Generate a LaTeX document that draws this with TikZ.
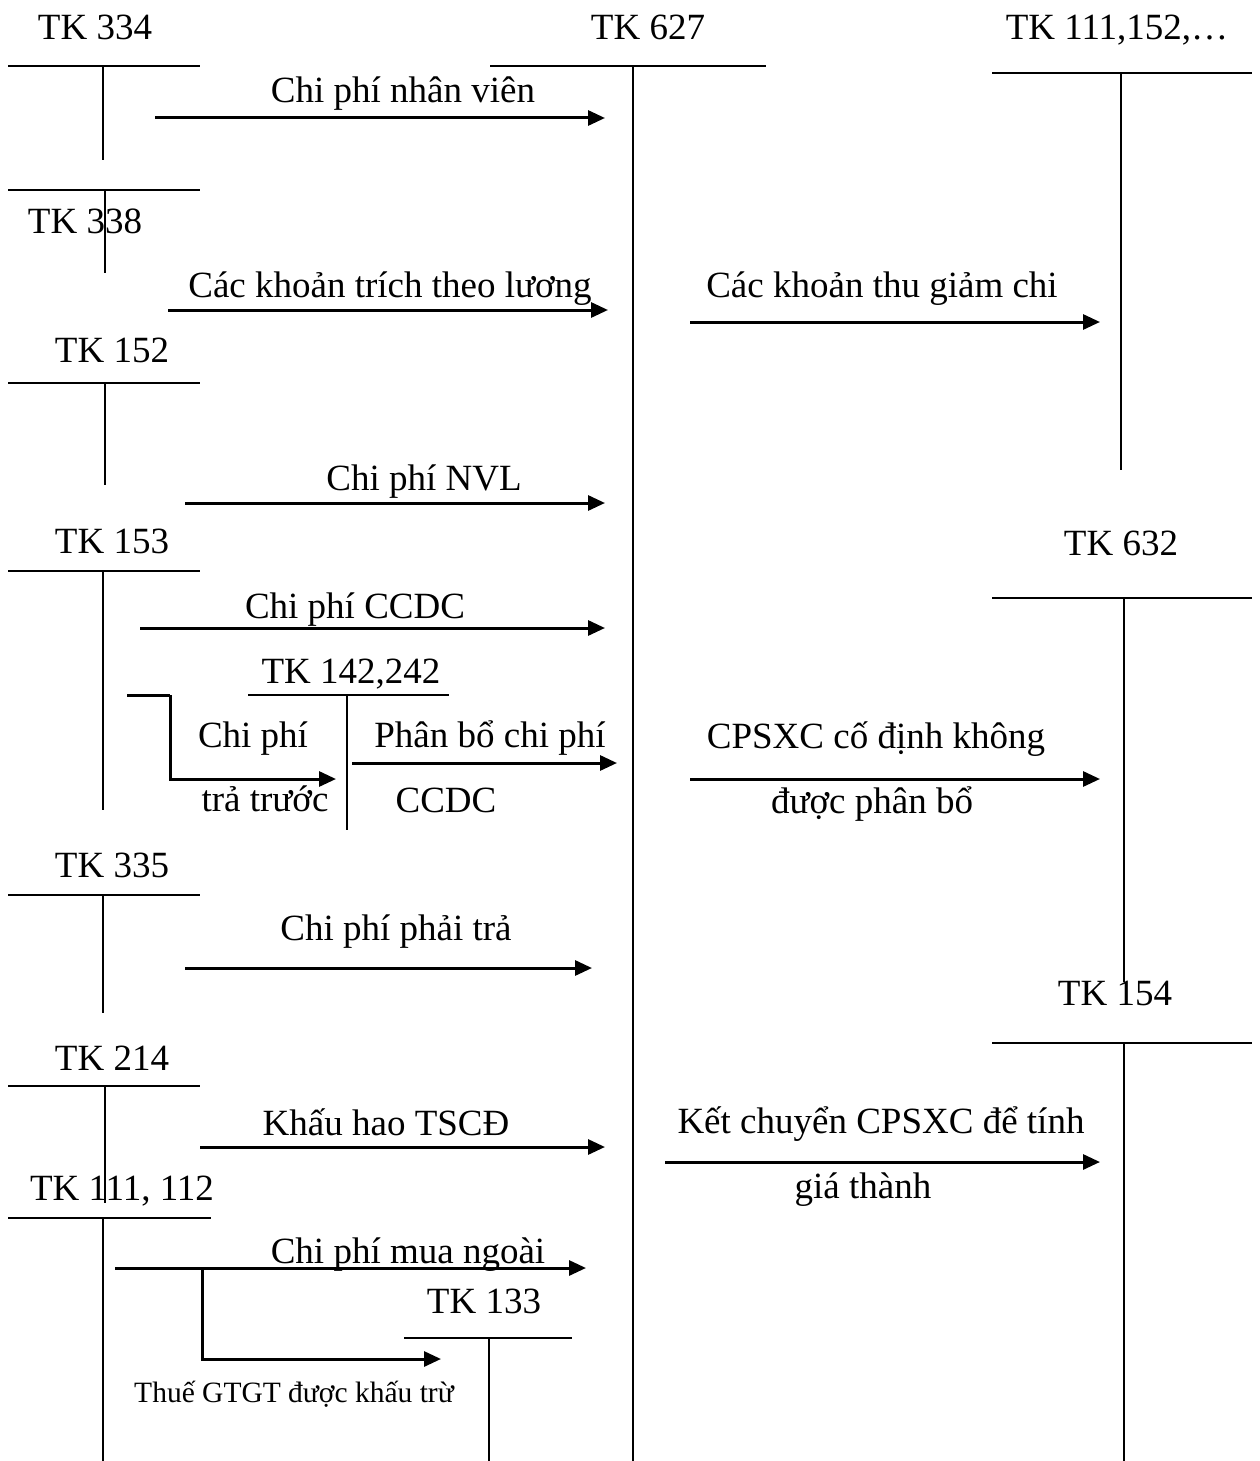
\documentclass[tikz,border=0pt]{standalone}
\usepackage{fontspec}
\setmainfont{Liberation Serif}
\usetikzlibrary{arrows.meta}
\begin{document}
\begin{tikzpicture}[x=1pt,y=-1pt,
  lbl/.style={font=\fontsize{37}{44}\selectfont, anchor=base, inner sep=0pt},
  small/.style={font=\fontsize{29.5}{35}\selectfont, anchor=base, inner sep=0pt},
  tline/.style={line width=2pt},
  arr/.style={line width=3pt, -{Triangle[length=17pt,width=15pt]}},
  seg/.style={line width=3pt}]
\useasboundingbox[fill=white] (0,0) rectangle (1259,1461);

% ---------- account labels ----------
\node[lbl] (t334) at (95,40) {TK 334};
\node[lbl] (t627) at (648,40) {TK 627};
\node[lbl] (t111a) at (1117,40) {TK 111,152,…};
\node[lbl] (t338) at (85,233) {TK 338};
\node[lbl] (t152) at (112,362) {TK 152};
\node[lbl] (t153) at (112,553) {TK 153};
\node[lbl] (t632) at (1121,555) {TK 632};
\node[lbl] (t142) at (351,683) {TK 142,242};
\node[lbl] (t335) at (112,877) {TK 335};
\node[lbl] (t154) at (1115,1005) {TK 154};
\node[lbl] (t214) at (112,1070) {TK 214};
\node[lbl] (t111b) at (122,1200) {TK 111, 112};
\node[lbl] (t133) at (484,1313) {TK 133};

% ---------- T accounts ----------
% TK 334
\coordinate (a334l) at (8,66); \coordinate (a334r) at (200,66);
\coordinate (a334t) at (103,66); \coordinate (a334b) at (103,160);
\draw[tline] (a334l) -- (a334r); \draw[tline] (a334t) -- (a334b);
% TK 338
\coordinate (a338l) at (8,190); \coordinate (a338r) at (200,190);
\coordinate (a338t) at (105,190); \coordinate (a338b) at (105,273);
\draw[tline] (a338l) -- (a338r); \draw[tline] (a338t) -- (a338b);
% TK 627
\coordinate (a627l) at (490,66); \coordinate (a627r) at (766,66);
\coordinate (a627t) at (633,66); \coordinate (a627b) at (633,1461);
\draw[tline] (a627l) -- (a627r); \draw[tline] (a627t) -- (a627b);
% TK 111,152,...
\coordinate (a111l) at (992,73); \coordinate (a111r) at (1252,73);
\coordinate (a111t) at (1121,73); \coordinate (a111bb) at (1121,470);
\draw[tline] (a111l) -- (a111r); \draw[tline] (a111t) -- (a111bb);
% TK 152
\coordinate (a152l) at (8,383); \coordinate (a152r) at (200,383);
\coordinate (a152t) at (105,383); \coordinate (a152b) at (105,485);
\draw[tline] (a152l) -- (a152r); \draw[tline] (a152t) -- (a152b);
% TK 153
\coordinate (a153l) at (8,571); \coordinate (a153r) at (200,571);
\coordinate (a153t) at (103,571); \coordinate (a153b) at (103,810);
\draw[tline] (a153l) -- (a153r); \draw[tline] (a153t) -- (a153b);
% TK 632
\coordinate (a632l) at (992,598); \coordinate (a632r) at (1252,598);
\coordinate (a632t) at (1124,598); \coordinate (a632b) at (1124,982);
\draw[tline] (a632l) -- (a632r); \draw[tline] (a632t) -- (a632b);
% TK 142,242
\coordinate (a142l) at (248,695); \coordinate (a142r) at (449,695);
\coordinate (a142t) at (347,695); \coordinate (a142b) at (347,830);
\draw[tline] (a142l) -- (a142r); \draw[tline] (a142t) -- (a142b);
% TK 335
\coordinate (a335l) at (8,895); \coordinate (a335r) at (200,895);
\coordinate (a335t) at (103,895); \coordinate (a335b) at (103,1013);
\draw[tline] (a335l) -- (a335r); \draw[tline] (a335t) -- (a335b);
% TK 154
\coordinate (a154l) at (992,1043); \coordinate (a154r) at (1252,1043);
\coordinate (a154t) at (1124,1043); \coordinate (a154b) at (1124,1461);
\draw[tline] (a154l) -- (a154r); \draw[tline] (a154t) -- (a154b);
% TK 214
\coordinate (a214l) at (8,1086); \coordinate (a214r) at (200,1086);
\coordinate (a214t) at (105,1086); \coordinate (a214b) at (105,1203);
\draw[tline] (a214l) -- (a214r); \draw[tline] (a214t) -- (a214b);
% TK 111, 112
\coordinate (a112l) at (8,1218); \coordinate (a112r) at (211,1218);
\coordinate (a112t) at (103,1218); \coordinate (a112b) at (103,1461);
\draw[tline] (a112l) -- (a112r); \draw[tline] (a112t) -- (a112b);
% TK 133
\coordinate (a133l) at (404,1338); \coordinate (a133r) at (572,1338);
\coordinate (a133t) at (489,1338); \coordinate (a133b) at (489,1461);
\draw[tline] (a133l) -- (a133r); \draw[tline] (a133t) -- (a133b);

% ---------- arrows ----------
\coordinate (s1) at (155,118); \coordinate (e1) at (605,118);
\draw[arr] (s1) -- (e1);
\node[lbl] (l1) at (403,103) {Chi phí nhân viên};

\coordinate (s2) at (168,310); \coordinate (e2) at (608,310);
\draw[arr] (s2) -- (e2);
\node[lbl] (l2) at (390,297) {Các khoản trích theo lương};

\coordinate (s3) at (690,322); \coordinate (e3) at (1100,322);
\draw[arr] (s3) -- (e3);
\node[lbl] (l3) at (882,297) {Các khoản thu giảm chi};

\coordinate (s4) at (185,503); \coordinate (e4) at (605,503);
\draw[arr] (s4) -- (e4);
\node[lbl] (l4) at (424,490) {Chi phí NVL};

\coordinate (s5) at (140,628); \coordinate (e5) at (605,628);
\draw[arr] (s5) -- (e5);
\node[lbl] (l5) at (355,618) {Chi phí CCDC};

\coordinate (s6) at (127,695); \coordinate (k6a) at (170,695);
\coordinate (k6b) at (170,779); \coordinate (e6) at (336,779);
\draw[seg] (s6) -- (k6a);
\draw[arr] (k6a) -- (k6b) -- (e6);
\node[lbl] (l6a) at (253,747) {Chi phí};
\node[lbl] (l6b) at (265,811) {trả trước};

\coordinate (s7) at (352,763); \coordinate (e7) at (617,763);
\draw[arr] (s7) -- (e7);
\node[lbl] (l7a) at (490,747) {Phân bổ chi phí};
\node[lbl] (l7b) at (446,812) {CCDC};

\coordinate (s8) at (690,779); \coordinate (e8) at (1100,779);
\draw[arr] (s8) -- (e8);
\node[lbl] (l8a) at (876,748) {CPSXC cố định không};
\node[lbl] (l8b) at (872,813) {được phân bổ};

\coordinate (s9) at (185,968); \coordinate (e9) at (592,968);
\draw[arr] (s9) -- (e9);
\node[lbl] (l9) at (396,940) {Chi phí phải trả};

\coordinate (s10) at (200,1147); \coordinate (e10) at (605,1147);
\draw[arr] (s10) -- (e10);
\node[lbl] (l10) at (386,1135) {Khấu hao TSCĐ};

\coordinate (s11) at (665,1162); \coordinate (e11) at (1100,1162);
\draw[arr] (s11) -- (e11);
\node[lbl] (l11a) at (881,1133) {Kết chuyển CPSXC để tính};
\node[lbl] (l11b) at (863,1198) {giá thành};

\coordinate (s12) at (115,1268); \coordinate (e12) at (586,1268);
\draw[arr] (s12) -- (e12);
\node[lbl] (l12) at (408,1263) {Chi phí mua ngoài};

\coordinate (k13a) at (202,1268); \coordinate (k13b) at (202,1359);
\coordinate (e13) at (441,1359);
\draw[arr] (k13a) -- (k13b) -- (e13);
\node[small] (l13) at (294,1402) {Thuế GTGT được khấu trừ};
\end{tikzpicture}
\end{document}
